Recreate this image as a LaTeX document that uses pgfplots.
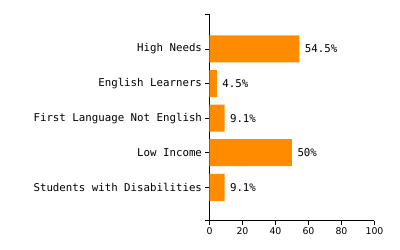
\documentclass[border=0pt]{standalone}
\usepackage{fontspec}
\setmainfont{DejaVu Sans}
\newfontfamily\mono{DejaVu Sans Mono}
\usepackage{pgfplots}
\pgfplotsset{compat=1.18}
\definecolor{barorange}{HTML}{FF8C00}
\begin{document}
\begin{tikzpicture}
\begin{axis}[
  scale only axis, width=165bp, height=206.5bp,
  xbar, bar width=27bp,
  xmin=0, xmax=100, ymin=-0.96, ymax=5.01,
  axis lines*=left,
  axis line style={-, black, line width=0.8bp},
  ytick={0,1,2,3,4},
  yticklabels={Students with Disabilities, Low Income, First Language Not English, English Learners, High Needs},
  yticklabel style={font=\mono\fontsize{10.8}{12}\selectfont, text=black},
  extra y ticks={-0.96,5.01}, extra y tick labels={},
  xtick={0,20,40,60,80,100},
  xticklabel style={font=\fontsize{9.4}{11}\selectfont, text=black},
  /pgf/number format/assume math mode=true,
  tick align=outside, major tick length=4bp,
  tick style={black, line width=0.8bp},
  nodes near coords, point meta=explicit symbolic,
  nodes near coords style={font=\mono\fontsize{10.8}{12}\selectfont, anchor=west, xshift=2bp, text=black},
]
\addplot[fill=barorange, draw=none] coordinates {
  (9.1,0) [9.1\%]
  (50,1) [50\%]
  (9.1,2) [9.1\%]
  (4.5,3) [4.5\%]
  (54.5,4) [54.5\%]
};
\end{axis}
\pgfresetboundingbox
\path (current axis.south west) ++(-209.5bp,-29.5bp) rectangle ++(400bp,250bp);
\end{tikzpicture}
\end{document}
